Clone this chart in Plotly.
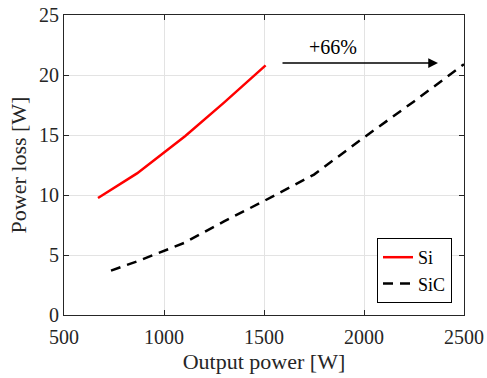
import plotly.graph_objects as go

si_power = [670, 865, 1105, 1300, 1508]
si_loss = [9.75, 11.8, 14.9, 17.7, 20.8]

sic_power = [735, 870, 1100, 1300, 1500, 1750, 2000, 2250, 2500]
sic_loss = [3.7, 4.5, 6.0, 7.8, 9.5, 11.7, 14.8, 17.8, 20.9]

x_ticks = [500, 1000, 1500, 2000, 2500]
y_ticks = [0, 5, 10, 15, 20, 25]

arrow_start = (1585, 21.0)
arrow_end = (2370, 21.0)
label_pos = (1845, 22.3)

FONT = "Liberation Serif"
AX = "#262626"

fig = go.Figure()
fig.add_trace(go.Scatter(x=si_power, y=si_loss, mode="lines", name="Si",
                         line=dict(color="#ff0000", width=2.5)))
fig.add_trace(go.Scatter(x=sic_power, y=sic_loss, mode="lines", name="SiC",
                         line=dict(color="black", width=2.5, dash="10px,7px")))

fig.add_annotation(x=arrow_end[0], y=arrow_end[1], ax=arrow_start[0], ay=arrow_start[1],
                   xref="x", yref="y", axref="x", ayref="y", text="",
                   showarrow=True, arrowhead=2, arrowsize=1.3, arrowwidth=1.5,
                   arrowcolor="black")
fig.add_annotation(x=label_pos[0], y=label_pos[1], xref="x", yref="y",
                   text="+66%", showarrow=False,
                   font=dict(family=FONT, size=20, color="black"))

axis_common = dict(showline=True, linecolor=AX, linewidth=1, mirror="ticks",
                   ticks="inside", ticklen=5, tickcolor=AX,
                   showgrid=True, gridcolor="#e3e3e3", gridwidth=1,
                   zeroline=False, automargin=False,
                   tickfont=dict(family=FONT, size=20, color=AX))

fig.update_xaxes(range=[500, 2500], tickvals=x_ticks, ticklabelstandoff=4,
                 title=dict(text="Output power [W]", font=dict(family=FONT, size=22, color=AX),
                            standoff=6),
                 **axis_common)
fig.update_yaxes(range=[0, 25], tickvals=y_ticks,
                 title=dict(text="Power loss [W]", font=dict(family=FONT, size=22, color=AX),
                            standoff=6),
                 **axis_common)

fig.update_layout(
    width=487, height=378,
    margin=dict(l=64, r=23, t=15, b=63),
    paper_bgcolor="white", plot_bgcolor="white",
    showlegend=True,
    legend=dict(x=0.97, y=0.04, xanchor="right", yanchor="bottom",
                bordercolor="black", borderwidth=1, bgcolor="white",
                font=dict(family=FONT, size=18, color="black"),
                tracegroupgap=0, itemwidth=30),
)

fig.write_html("out.html")
